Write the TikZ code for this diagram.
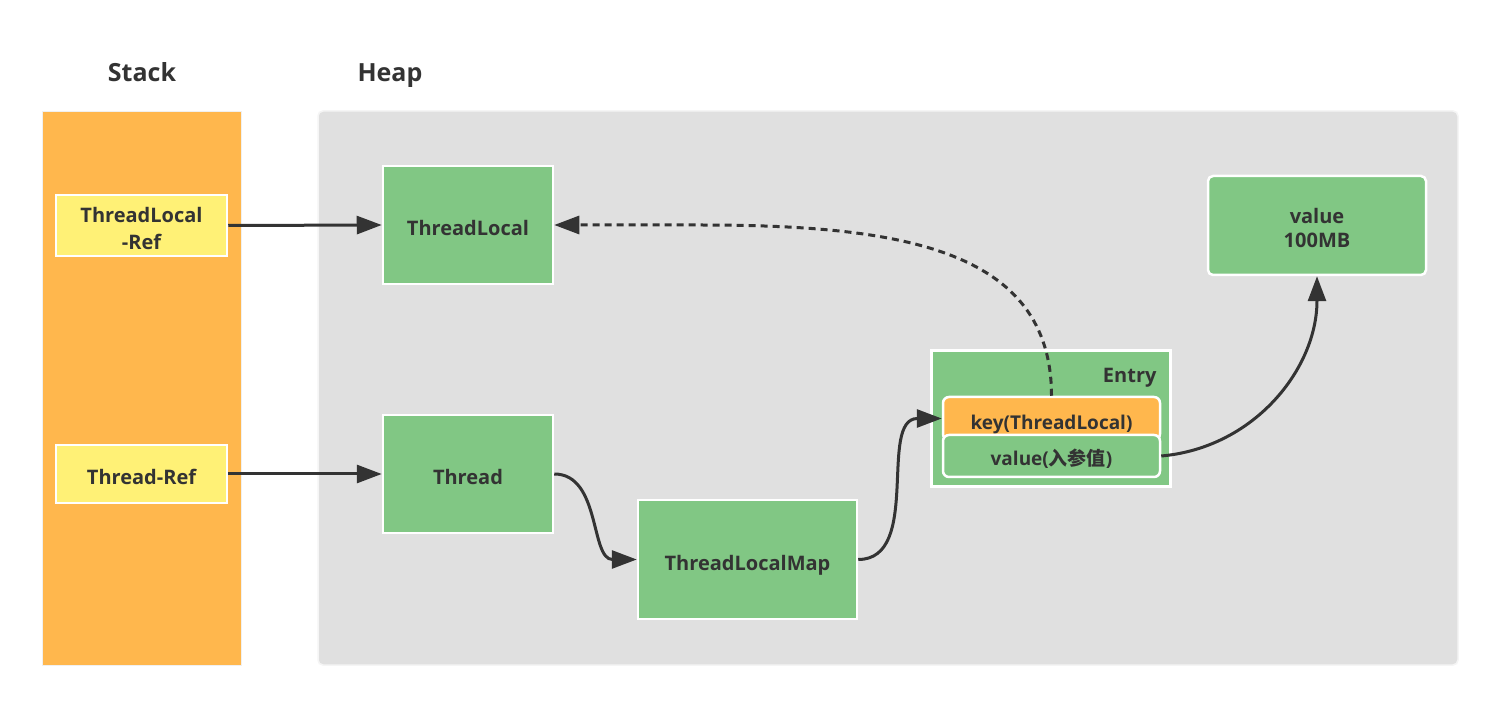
\documentclass[tikz,border=0pt]{standalone}
\usepackage{fontspec}
\setmainfont{Open Sans}
\newfontfamily\cjk{Noto Sans CJK SC}
\usetikzlibrary{arrows.meta,calc}
\definecolor{txt}{HTML}{333333}
\definecolor{stackc}{HTML}{FFB74D}
\definecolor{heapc}{HTML}{E0E0E0}
\definecolor{yel}{HTML}{FFF176}
\definecolor{grn}{HTML}{81C784}
\tikzset{
  lbl/.style={font=\fontsize{20}{24}\selectfont\bfseries, text=txt},
  refbox/.style={lbl, fill=yel, draw=white, line width=2.5pt, inner sep=0pt, align=center},
  objbox/.style={lbl, fill=grn, draw=white, line width=2.5pt, inner sep=0pt, align=center},
  oneline/.style={text height=21pt, text depth=0pt},
  link/.style={draw=txt, line width=3pt, -{Triangle[length=25pt,width=18pt]}},
}
\begin{document}
\begin{tikzpicture}[x=1pt,y=-1pt]
\useasboundingbox (0,0) rectangle (1500,708);
\fill[white] (0,0) rectangle (1500,708);
% titles
\node[font=\fontsize{25}{29}\selectfont\bfseries, text=txt, anchor=base] (stacklbl) at (142,82) {Stack};
\node[font=\fontsize{25}{29}\selectfont\bfseries, text=txt, anchor=base] (heaplbl) at (390,82) {Heap};
% areas
\node[fill=stackc, draw=black!6, line width=1pt, minimum width=199pt, minimum height=553pt, inner sep=0pt] (stack) at (141.5,388.5) {};
\node[fill=heapc, draw=black!4, line width=1.5pt, rounded corners=5pt, minimum width=1140pt, minimum height=554pt, inner sep=0pt] (heap) at (888,388) {};
% stack refs
\node[refbox, minimum width=171pt, minimum height=61pt] (tlref) at (141.5,225.5) {\rule{0pt}{22pt}ThreadLocal\\[3pt]-Ref};
\node[refbox, oneline, minimum width=171pt, minimum height=58pt] (tref) at (141.5,474) {Thread-Ref};
% heap objects
\node[objbox, oneline, minimum width=170pt, minimum height=118pt] (tl) at (468,225) {ThreadLocal};
\node[objbox, oneline, minimum width=170pt, minimum height=118pt] (th) at (468,474) {Thread};
\node[objbox, text height=22pt, text depth=0pt, minimum width=219pt, minimum height=119pt] (map) at (747.5,559.5) {ThreadLocalMap};
\node[objbox, rounded corners=5pt, minimum width=218pt, minimum height=99pt] (val) at (1317,225.5) {\rule{0pt}{21pt}value\\[0pt]100MB};
% entry
\node[fill=grn, draw=white, line width=3pt, minimum width=239pt, minimum height=136pt, inner sep=0pt] (entry) at (1050.5,419) {};
\node[lbl, anchor=east] (entrylbl) at (1160,378) {Entry};
\node[lbl, font=\fontsize{19}{23}\selectfont\bfseries, fill=stackc, draw=white, line width=2.5pt, rounded corners=6pt, minimum width=217pt, minimum height=43pt, inner sep=0pt, text height=23pt, text depth=0pt] (key) at (1051.5,418.5) {key(ThreadLocal)};
\node[lbl, font=\fontsize{19}{23}\selectfont\bfseries, fill=grn, draw=white, line width=2.5pt, rounded corners=6pt, minimum width=217pt, minimum height=42pt, inner sep=0pt, text height=19pt, text depth=0pt] (kval) at (1051.5,456) {value({\cjk 入参值})};
% connectors
\draw[link] (tlref.east) -- (tl.west);
\draw[link] (tref.east) -- (th.west);
\draw[link] (th.east) to[out=0,in=180] (map.west);
\draw[link] (map.east) to[out=0,in=180] (key.west);
\draw[link] (kval.east) to[out=5,in=-90] (val.south);
\coordinate (bend) at (700,225);
\draw[link, dash pattern=on 7pt off 5pt] (key.north) .. controls ($(key.north)+(0,-147)$) and ($(bend)+(200,0)$) .. (bend) -- (tl.east);
\end{tikzpicture}
\end{document}
